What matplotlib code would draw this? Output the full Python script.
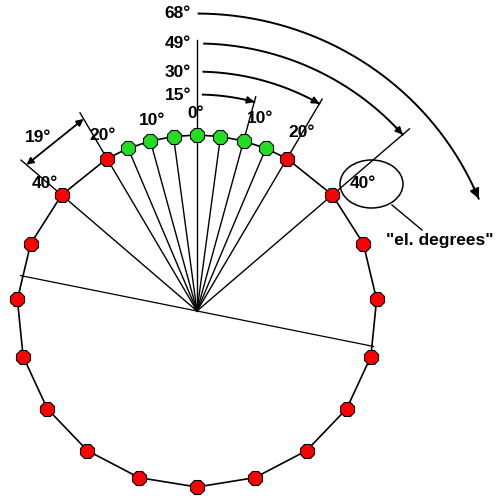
import numpy as np
import matplotlib
matplotlib.use('Agg')
import matplotlib.pyplot as plt
from matplotlib.patches import Ellipse

# ---- data (angles in degrees, measured clockwise from top) ----
green_angles = [-22.5, -15.0, -7.5, 0.0, 7.5, 15.0, 22.5]
red_angles_right = [30.0, 48.75, 67.5, 86.25, 105.0, 123.75, 142.5, 161.25, 180.0]
red_angles_left = [-30.0, -48.75, -67.5, -86.25, -105.0, -123.75, -142.5, -161.25]
arc_labels = ['15°', '30°', '49°', '68°']
arc_angles = [15.0, 30.0, 48.75, 67.5]
slot_labels = ['0°', '10°', '10°', '20°', '20°', '40°', '40°']
dim_label = '19°'
dim_angles = [-30.0, -48.75]
diameter_angle = 101.6
callout_text = '"el. degrees"'

W = H = 497
fig = plt.figure(figsize=(4.97, 4.97), dpi=100)
ax = fig.add_axes([0, 0, 1, 1])
CX, CY, SX, SY = 197, 311, 180, 176
ax.set_xlim(-CX / SX, (W - CX) / SX)
ax.set_ylim(-(H - CY) / SY, CY / SY)
ax.axis('off')


def pol(a, r=1.0):
    a = np.radians(np.asarray(a, dtype=float))
    return r * np.sin(a), r * np.cos(a)


def pix(px, py):
    return (px - CX) / SX, (CY - py) / SY


FONT = dict(fontsize=12.5, fontweight='bold', family=['Liberation Sans', 'DejaVu Sans'], color='black')

# ring through all slots
all_angles = sorted(green_angles + red_angles_right + red_angles_left)
ring = all_angles + [all_angles[0]]
rx, ry = pol(ring)
ax.plot(rx, ry, color='black', lw=1.2, zorder=2)

# radial lines from hub
radial_ext = {0.0: 1.54, 15.0: 1.26, 30.0: 1.39, 48.75: 1.57, -30.0: 1.30, -48.75: 1.30}
for a in green_angles + [30.0, 48.75, -30.0, -48.75]:
    r = radial_ext.get(a, 1.0)
    x, y = pol([0, a], [0, r])
    ax.plot(x, y, color='black', lw=1.0, zorder=2)

# tilted diameter
x, y = pol([diameter_angle, diameter_angle + 180])
ax.plot(x, y, color='black', lw=0.9, zorder=2)

# arcs with arrows
arc_radii = [1.23, 1.36, 1.52, 1.69]
arc_start = [1.5, 1.5, 1.5, 0.3]
for a, r, s in zip(arc_angles, arc_radii, arc_start):
    t = np.linspace(s, a + (0.3 if a > 60 else 0), 200)
    x, y = pol(t, r)
    ax.plot(x, y, color='black', lw=1.4, zorder=2)
    k = -8 if a > 60 else -10
    ax.annotate('', xy=(x[-1], y[-1]), xytext=(x[k], y[k]),
                arrowprops=dict(arrowstyle='-|>', color='black', lw=1.4,
                                mutation_scale=14 if a > 60 else 10,
                                shrinkA=0, shrinkB=0), zorder=3)

# dimension arrow for 19°
p1 = pol(dim_angles[0], 1.26)
p2 = pol(dim_angles[1], 1.26)
ax.annotate('', xy=p1, xytext=p2,
            arrowprops=dict(arrowstyle='<|-|>', color='black', lw=1.3,
                            mutation_scale=10, shrinkA=0, shrinkB=0), zorder=3)

# markers
gx, gy = pol(green_angles)
ax.plot(gx, gy, linestyle='none', marker='8', markersize=11, markerfacecolor='#22dd22',
        markeredgecolor='black', markeredgewidth=0.8, zorder=4)
red = red_angles_right + red_angles_left
qx, qy = pol(red)
ax.plot(qx, qy, linestyle='none', marker='8', markersize=11.5, markerfacecolor='#ff0000',
        markeredgecolor='black', markeredgewidth=0.8, zorder=4)

# callout ellipse
ex, ey = pix(371.5, 184)
ax.add_patch(Ellipse((ex, ey), 63 / SX, 48 / SY, fill=False, edgecolor='black', lw=1.1, zorder=3))
lx0, ly0 = pix(392, 205)
lx1, ly1 = pix(422, 230)
ax.plot([lx0, lx1], [ly0, ly1], color='black', lw=1.0, zorder=3)

# arc labels
for lab, py in zip(arc_labels, [95, 72, 43, 13]):
    ax.text(*pix(191, py), lab, ha='right', va='center', **FONT)

# slot labels
slot_pos = [(196, 113), (152, 120), (260, 118), (103, 135), (302, 132), (45, 183), (363, 183)]
for lab, (px_, py_) in zip(slot_labels, slot_pos):
    ax.text(*pix(px_, py_), lab, ha='center', va='center', zorder=5, **FONT)

ax.text(*pix(38, 137), dim_label, ha='center', va='center', **FONT)
ax.text(*pix(386, 240), callout_text, ha='left', va='center', **FONT)

fig.savefig('out.png', dpi=100, facecolor='white')
